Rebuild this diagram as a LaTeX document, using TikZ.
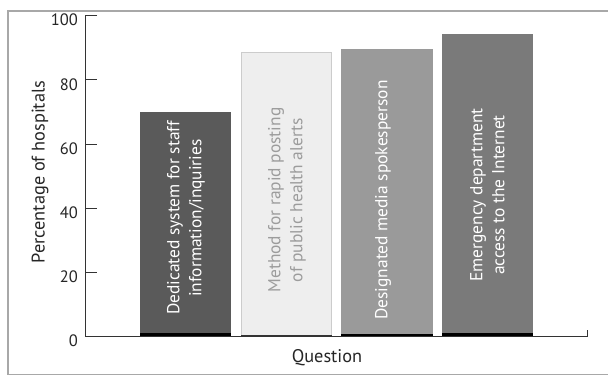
\documentclass[tikz,border=0pt]{standalone}
\usepackage{fontspec}
\setmainfont{PT Sans}
\definecolor{framec}{HTML}{A8A8A8}
\definecolor{axisc}{HTML}{333333}
\definecolor{barA}{HTML}{5A5A5A}
\definecolor{barB}{HTML}{EEEEEE}
\definecolor{barBline}{HTML}{CCCCCC}
\definecolor{barC}{HTML}{9A9A9A}
\definecolor{barD}{HTML}{7A7A7A}
\definecolor{textB}{HTML}{9C9C9C}
\tikzset{
  ticklabel/.style={anchor=east,inner sep=0pt,font=\fontsize{16.5}{18}\selectfont,text=black!85},
  bartext/.style={rotate=90,align=center,inner sep=0pt,font=\fontsize{17.4}{22}\selectfont,text=white},
  axistitle/.style={inner sep=0pt,font=\fontsize{18.3}{20}\selectfont,text=black!85}
}
\begin{document}
\begin{tikzpicture}[x=1pt,y=1pt]
\useasboundingbox (0,0) rectangle (608,-376);
\fill[white] (0,0) rectangle (608,-376);
\draw[framec,line width=1.2pt] (608,-11) -- (8,-11) -- (8,-374.5) -- (608,-374.5);
\fill[barA] (140,-336.7) rectangle (231,-112);
\draw[barBline,fill=barB,line width=0.6pt] (241,-336.7) rectangle (331.5,-52.3);
\fill[barC] (341,-336.7) rectangle (433,-49);
\fill[barD] (442,-336.7) rectangle (533,-34);
\fill[black] (140,-337) rectangle (231,-333);
\fill[black!80] (241,-337) rectangle (331.5,-334.5);
\fill[black] (341,-337) rectangle (433,-333.5);
\fill[black] (442,-337) rectangle (533,-333);
\node[bartext] (t1) at (186,-218) {Dedicated system for staff\\information/inquiries};
\node[bartext,text=textB] (t2) at (287,-200) {Method for rapid posting\\of public health alerts};
\node[bartext] (t3) at (383,-200) {Designated media spokesperson};
\node[bartext] (t4) at (487.5,-195) {Emergency department\\access to the Internet};
\draw[axisc,line width=1pt] (97,-15.7) -- (85,-15.7) -- (85,-336.7) -- (587.7,-336.7) -- (587.7,-329.5);
\foreach \v in {20,40,60,80} {
  \draw[axisc,line width=1pt] (85,{-336.7+3.21*\v}) -- (97,{-336.7+3.21*\v});
}
\foreach \v/\n in {0/l0,20/l20,40/l40,60/l60,80/l80,100/l100} {
  \node[ticklabel] (\n) at (78,{-336.7+3.21*\v-4.5}) {\v};
}
\node[axistitle,rotate=90] (ytitle) at (40,-172) {Percentage of hospitals};
\node[axistitle] (xtitle) at (327,-357.5) {Question};
\end{tikzpicture}
\end{document}
